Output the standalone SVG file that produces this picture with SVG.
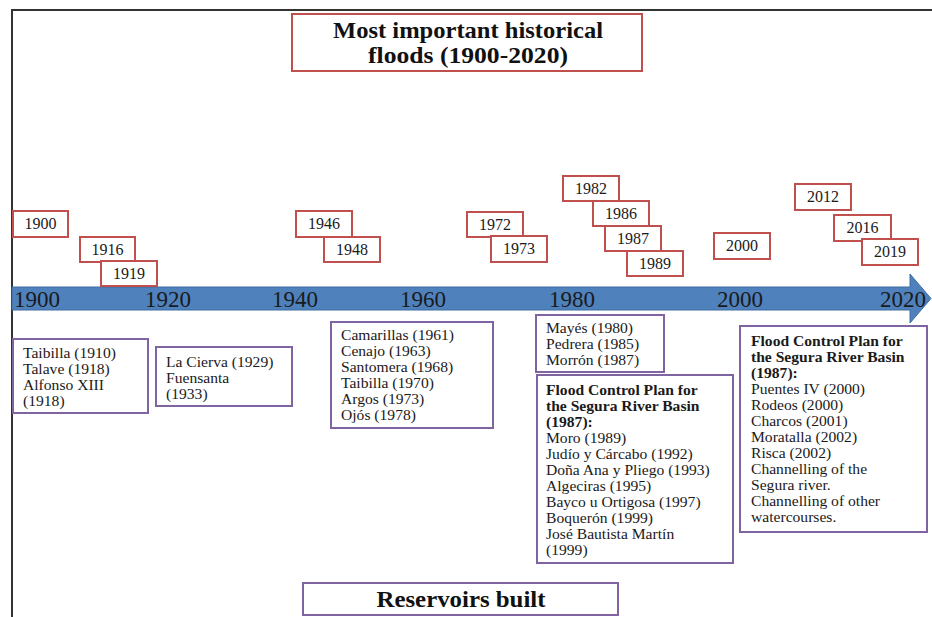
<svg xmlns="http://www.w3.org/2000/svg" width="932" height="617" viewBox="0 0 932 617">
<style>
.frame{stroke:#333;stroke-width:2;fill:none}
.flood{fill:#fff;stroke:#C0504D;stroke-width:2}
.res{fill:#fff;stroke:#8064A2;stroke-width:2}
.yr{font-family:"Liberation Serif",serif;font-size:16px;fill:#1a1a1a;text-anchor:middle}
.ax{font-family:"Liberation Serif",serif;font-size:23px;fill:#1a1a1a}
.t{font-family:"Liberation Serif",serif;font-size:15.6px;fill:#1a1a1a}
.b{font-weight:bold}
.title{font-family:"Liberation Serif",serif;font-size:23px;font-weight:bold;fill:#111;text-anchor:middle}
</style>
<rect width="932" height="617" fill="#fff"/>
<path class="frame" d="M12,617 V10 H932"/>

<g id="title">
<rect class="flood" x="292" y="14" width="350" height="57"/>
<text class="title" x="468" y="38" textLength="270" lengthAdjust="spacingAndGlyphs">Most important historical</text>
<text class="title" x="468" y="63" textLength="200" lengthAdjust="spacingAndGlyphs">floods (1900-2020)</text>
</g>

<g id="timeline">
<polygon points="12,287 910,287 910,274 931,298.5 910,323 910,310 12,310" fill="#4F81BD" stroke="#3D6C9F" stroke-width="1"/>
<text class="ax" x="14" y="307">1900</text>
<text class="ax" x="145" y="307">1920</text>
<text class="ax" x="272" y="307">1940</text>
<text class="ax" x="400" y="307">1960</text>
<text class="ax" x="549" y="307">1980</text>
<text class="ax" x="717" y="307">2000</text>
<text class="ax" x="880" y="307">2020</text>
</g>

<g id="f1900"><rect class="flood" x="13" y="211" width="55" height="26"/><text class="yr" x="40.5" y="229">1900</text></g>
<g id="f1916"><rect class="flood" x="80" y="237" width="55" height="25"/><text class="yr" x="107.5" y="255">1916</text></g>
<g id="f1919"><rect class="flood" x="101" y="261" width="56" height="25"/><text class="yr" x="129" y="279">1919</text></g>
<g id="f1946"><rect class="flood" x="296" y="211" width="56" height="26"/><text class="yr" x="324" y="229">1946</text></g>
<g id="f1948"><rect class="flood" x="324" y="237" width="56" height="25"/><text class="yr" x="352" y="255">1948</text></g>
<g id="f1972"><rect class="flood" x="467" y="212" width="56" height="25"/><text class="yr" x="495" y="230">1972</text></g>
<g id="f1973"><rect class="flood" x="491" y="236" width="56" height="26"/><text class="yr" x="519" y="254">1973</text></g>
<g id="f1982"><rect class="flood" x="563" y="176" width="56" height="25"/><text class="yr" x="591" y="194">1982</text></g>
<g id="f1986"><rect class="flood" x="593" y="201" width="56" height="25"/><text class="yr" x="621" y="219">1986</text></g>
<g id="f1987"><rect class="flood" x="605" y="226" width="56" height="25"/><text class="yr" x="633" y="244">1987</text></g>
<g id="f1989"><rect class="flood" x="627" y="251" width="56" height="25"/><text class="yr" x="655" y="269">1989</text></g>
<g id="f2000"><rect class="flood" x="714" y="233" width="56" height="26"/><text class="yr" x="742" y="251">2000</text></g>
<g id="f2012"><rect class="flood" x="795" y="184" width="56" height="26"/><text class="yr" x="823" y="202">2012</text></g>
<g id="f2016"><rect class="flood" x="834" y="215" width="57" height="26"/><text class="yr" x="862.5" y="233">2016</text></g>
<g id="f2019"><rect class="flood" x="862" y="239" width="56" height="26"/><text class="yr" x="890" y="257">2019</text></g>

<g id="r1">
<rect class="res" x="13" y="339" width="135" height="74"/>
<text class="t" x="23" y="358">Taibilla (1910)</text>
<text class="t" x="23" y="374">Talave (1918)</text>
<text class="t" x="23" y="390">Alfonso XIII</text>
<text class="t" x="23" y="406">(1918)</text>
</g>
<g id="r2">
<rect class="res" x="156" y="347" width="136" height="59"/>
<text class="t" x="166" y="367">La Cierva (1929)</text>
<text class="t" x="166" y="383">Fuensanta</text>
<text class="t" x="166" y="399">(1933)</text>
</g>
<g id="r3">
<rect class="res" x="331" y="322" width="162" height="106"/>
<text class="t" x="341" y="340">Camarillas (1961)</text>
<text class="t" x="341" y="356">Cenajo (1963)</text>
<text class="t" x="341" y="372">Santomera (1968)</text>
<text class="t" x="341" y="388">Taibilla (1970)</text>
<text class="t" x="341" y="404">Argos (1973)</text>
<text class="t" x="341" y="420">Ojós (1978)</text>
</g>
<g id="r4">
<rect class="res" x="536" y="315" width="128" height="57"/>
<text class="t" x="546" y="333">Mayés (1980)</text>
<text class="t" x="546" y="349">Pedrera (1985)</text>
<text class="t" x="546" y="365">Morrón (1987)</text>
</g>
<g id="r5">
<rect class="res" x="537" y="375" width="196" height="188"/>
<text class="t b" x="546" y="395">Flood Control Plan for</text>
<text class="t b" x="546" y="411">the Segura River Basin</text>
<text class="t b" x="546" y="427">(1987):</text>
<text class="t" x="546" y="443">Moro (1989)</text>
<text class="t" x="546" y="459">Judío y Cárcabo (1992)</text>
<text class="t" x="546" y="475">Doña Ana y Pliego (1993)</text>
<text class="t" x="546" y="491">Algeciras (1995)</text>
<text class="t" x="546" y="507">Bayco u Ortigosa (1997)</text>
<text class="t" x="546" y="523">Boquerón (1999)</text>
<text class="t" x="546" y="539">José Bautista Martín</text>
<text class="t" x="546" y="555">(1999)</text>
</g>
<g id="r6">
<rect class="res" x="740" y="326" width="187" height="206"/>
<text class="t b" x="751" y="346">Flood Control Plan for</text>
<text class="t b" x="751" y="362">the Segura River Basin</text>
<text class="t b" x="751" y="378">(1987):</text>
<text class="t" x="751" y="394">Puentes IV (2000)</text>
<text class="t" x="751" y="410">Rodeos (2000)</text>
<text class="t" x="751" y="426">Charcos (2001)</text>
<text class="t" x="751" y="442">Moratalla (2002)</text>
<text class="t" x="751" y="458">Risca (2002)</text>
<text class="t" x="751" y="474">Channelling of the</text>
<text class="t" x="751" y="490">Segura river.</text>
<text class="t" x="751" y="506">Channelling of other</text>
<text class="t" x="751" y="522">watercourses.</text>
</g>
<g id="reservoirs">
<rect class="res" x="303" y="583" width="315" height="32"/>
<text class="title" x="461" y="607" textLength="169" lengthAdjust="spacingAndGlyphs">Reservoirs built</text>
</g>
<g id="connectors"/>
</svg>
